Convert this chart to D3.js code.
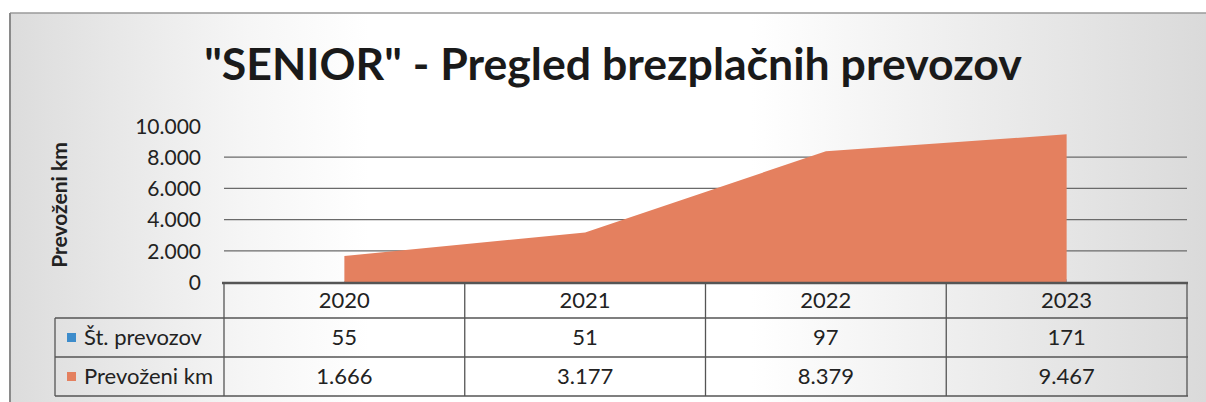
<!DOCTYPE html>
<html><head><meta charset="utf-8">
<script src="https://cdn.jsdelivr.net/npm/d3@7"></script>
<style>html,body{margin:0;padding:0;background:#fff;}svg{display:block;}</style>
</head><body>
<svg id="c" width="1206" height="402"></svg>
<script>
const categories = ["2020", "2021", "2022", "2023"];
const stPrevozov = [55, 51, 97, 171];
const prevozeniKm = [1666, 3177, 8379, 9467];
const yTicks = [0, 2000, 4000, 6000, 8000, 10000];
const seriesNames = ["Št. prevozov", "Prevoženi km"];
const seriesColors = ["#3d8ccb", "#e4805f"];
const title = "\"SENIOR\" - Pregled brezplačnih prevozov";
const yTitle = "Prevoženi km";

const fmt = v => d3.format(",")(v).replace(/,/g, ".");
const svg = d3.select("#c");
const font = "Lato, 'Open Sans', sans-serif";

// background
const defs = svg.append("defs");
const g1 = defs.append("linearGradient").attr("id", "bg").attr("x1", "0").attr("x2", "1").attr("y1", "0").attr("y2", "0");
[[0, "#dcdcdc"], [0.2, "#f6f6f6"], [0.3, "#ffffff"], [0.62, "#ffffff"], [0.75, "#f2f2f2"], [1, "#dadada"]]
  .forEach(([o, c]) => g1.append("stop").attr("offset", o).attr("stop-color", c));
svg.append("rect").attr("x", 0).attr("y", 0).attr("width", 1206).attr("height", 402).attr("fill", "#fff");
svg.append("rect").attr("x", 10).attr("y", 13).attr("width", 1196).attr("height", 389).attr("fill", "url(#bg)");
svg.append("line").attr("x1", 10).attr("x2", 1206).attr("y1", 13).attr("y2", 13).attr("stroke", "#9a9a9a").attr("stroke-width", 1.5);
svg.append("line").attr("x1", 10).attr("x2", 10).attr("y1", 13).attr("y2", 402).attr("stroke", "#8a8a8a").attr("stroke-width", 2);

// scales
const x = d3.scaleBand().domain(categories).range([224, 1187]);
const y = d3.scaleLinear().domain([0, 10000]).range([282, 126]);
const cx = d => x(d) + x.bandwidth() / 2;

// gridlines
svg.append("g").selectAll("line").data(yTicks.filter(t => t > 0 && t < 10000)).join("line")
  .attr("x1", 224).attr("x2", 1187).attr("y1", d => y(d)).attr("y2", d => y(d))
  .attr("stroke", "#6a6a6a").attr("stroke-width", 1.2);

// areas
const area = d3.area().x((d, i) => cx(categories[i])).y0(y(0)).y1(d => y(d));
svg.append("path").datum(stPrevozov).attr("d", area).attr("fill", seriesColors[0]);
svg.append("path").datum(prevozeniKm).attr("d", area).attr("fill", seriesColors[1]);

// y axis labels
const yAxis = d3.axisLeft(y).tickValues(yTicks).tickFormat(fmt).tickSize(0).tickPadding(0);
const ya = svg.append("g").attr("transform", "translate(201,0)").call(yAxis);
ya.select(".domain").remove();
ya.selectAll("text").attr("font-family", font).attr("font-size", 21).attr("fill", "#222").attr("dy", "0.35em");

// y title
svg.append("text").attr("transform", "translate(67,205) rotate(-90)").attr("text-anchor", "middle")
  .attr("font-family", font).attr("font-weight", "bold").attr("font-size", 21).attr("fill", "#222").text(yTitle);

// title
const tt = svg.append("text").attr("x", 613).attr("y", 80).attr("text-anchor", "middle")
  .attr("font-family", font).attr("font-weight", "bold").attr("font-size", 40).attr("fill", "#1a1a1a").text(title);
const w = tt.node().getComputedTextLength();
tt.attr("font-size", 40 * 818 / w);

// data table
const rowY = [283, 318, 357, 396];
const line = (x1, x2, y1, y2, sw) => svg.append("line").attr("x1", x1).attr("x2", x2).attr("y1", y1).attr("y2", y2)
  .attr("stroke", "#555").attr("stroke-width", sw || 1.3);
line(222, 1188, rowY[0], rowY[0], 2.4);
line(55, 1188, rowY[1], rowY[1]);
line(55, 1188, rowY[2], rowY[2]);
line(55, 1188, rowY[3], rowY[3]);
line(55, 55, rowY[1], rowY[3]);
categories.forEach(c => line(x(c), x(c), rowY[0], rowY[3]));
line(1187, 1187, rowY[0], rowY[3]);

const tbl = svg.append("g").attr("font-family", font).attr("font-size", 22).attr("fill", "#222");
tbl.selectAll("text.h").data(categories).join("text").attr("class", "h")
  .attr("x", d => cx(d)).attr("y", (rowY[0] + rowY[1]) / 2).attr("dy", "0.36em").attr("text-anchor", "middle").text(d => d);
[stPrevozov, prevozeniKm].forEach((vals, r) => {
  tbl.selectAll("text.r" + r).data(vals).join("text").attr("class", "r" + r)
    .attr("x", (d, i) => cx(categories[i])).attr("y", (rowY[r + 1] + rowY[r + 2]) / 2).attr("dy", "0.36em")
    .attr("text-anchor", "middle").text(d => fmt(d));
  const my = (rowY[r + 1] + rowY[r + 2]) / 2;
  svg.append("rect").attr("x", 67).attr("y", my - 4.5).attr("width", 9).attr("height", 9).attr("fill", seriesColors[r]);
  tbl.append("text").attr("x", 84).attr("y", my).attr("dy", "0.36em").text(seriesNames[r]);
});
</script>
</body></html>
